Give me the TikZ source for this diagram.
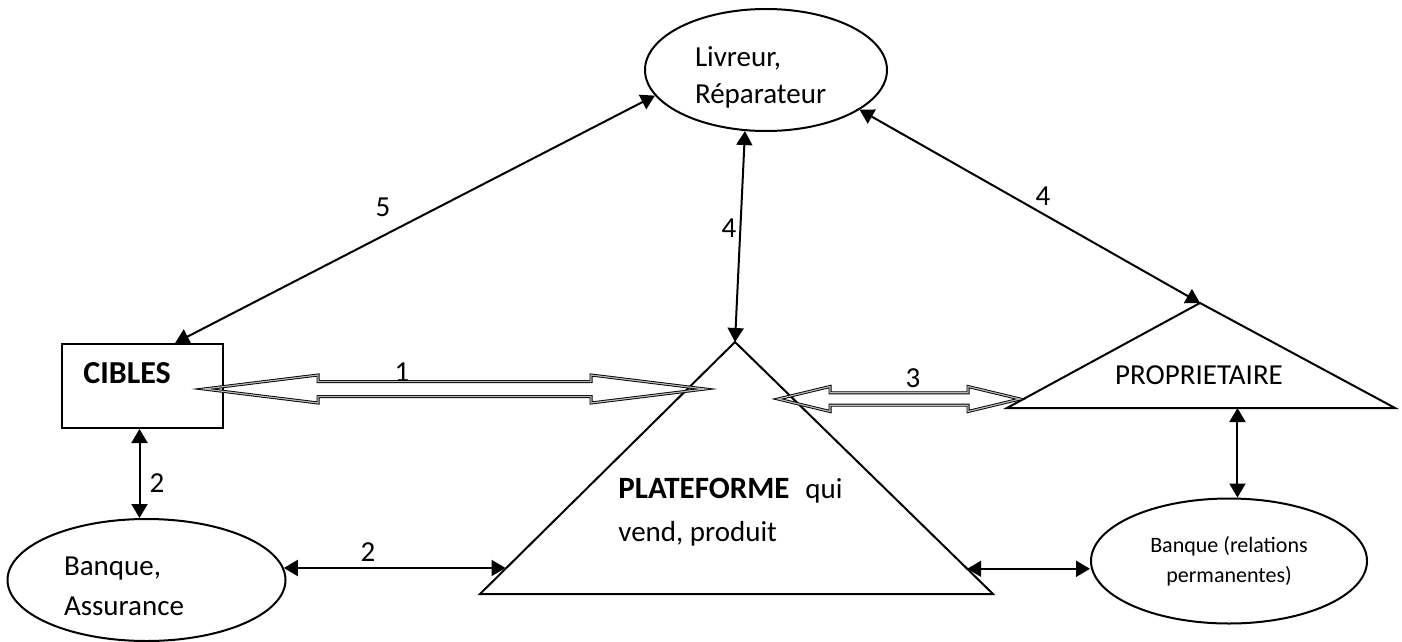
\documentclass[tikz,border=0pt]{standalone}
\usepackage{fontspec}
\setmainfont{Carlito}
\usetikzlibrary{arrows.meta,positioning,calc,shapes.geometric}
\frenchspacing
\newcommand{\fsmain}{\fontsize{14.5pt}{18.5pt}\selectfont}
\newcommand{\fssmall}{\fontsize{11pt}{15pt}\selectfont}
% hollow two-headed arrow: left tip, right tip, head length, head half-width, shaft half-width
\newcommand{\hollowarrow}[5]{%
  \draw[hollow] (#1) -- ($(#1)+(#3,-#4)$) -- ($(#1)+(#3,-#5)$) -- ($(#2)+(-#3,-#5)$)
    -- ($(#2)+(-#3,-#4)$) -- (#2) -- ($(#2)+(-#3,#4)$) -- ($(#2)+(-#3,#5)$)
    -- ($(#1)+(#3,#5)$) -- ($(#1)+(#3,#4)$) -- cycle;}
\tikzset{
  oval/.style={draw,ellipse,line width=1pt,inner sep=0pt,font=\fsmain},
  boxnode/.style={draw,rectangle,line width=1pt,inner sep=0pt},
  tri/.style={draw,line width=1pt,line join=miter},
  link/.style={{Triangle[length=7pt,width=8pt]}-{Triangle[length=7pt,width=8pt]},line width=1pt},
  hollow/.style={draw=black,double=gray!55,double distance=0.6pt,line width=0.45pt,miter limit=25},
  num/.style={font=\fsmain,inner sep=0pt},
}

\begin{document}
\begin{tikzpicture}[x=0.5pt,y=-0.5pt]
\useasboundingbox (0,0) rectangle (1402,642);

% ---------------------------------------------------------------- nodes
\node[oval,minimum width=121pt,minimum height=61pt,text width=71pt,align=left,
  text height=17pt] (liv) at (766,70) {Livreur,\\Réparateur};
\node[boxnode,minimum width=80.5pt,minimum height=42pt] (cib) at (142.5,386) {};
\node[font=\fontsize{16pt}{19pt}\selectfont\bfseries,anchor=base west,inner sep=0pt]
  (cibtxt) at (83,383) {CIBLES};
\node[oval,minimum width=139pt,minimum height=61pt,text width=82.5pt,align=left,
  text height=16pt,font=\fontsize{14.5pt}{20pt}\selectfont] (bas) at (146.5,580) {Banque,\\Assurance};
\node[oval,minimum width=138pt,minimum height=62.5pt,align=center,font=\fssmall]
  (bar) at (1229,561) {Banque (relations\\permanentes)};

% ---------------------------------------------------------------- triangles
\coordinate (platT) at (735,342);
\coordinate (platL) at (480,594);
\coordinate (platR) at (993,594);
\draw[tri] (platT) -- (platL) -- (platR) -- cycle;
\node[anchor=base west,inner sep=0pt,font=\fontsize{14.5pt}{21.5pt}\selectfont]
  (plattxt) at (618,498) {\begin{tabular}[t]{@{}l@{}}
  {\fontsize{15.5pt}{21.5pt}\selectfont\bfseries PLATEFORME}\hspace{0.55em}qui\\
  vend, produit\end{tabular}};

\coordinate (propT) at (1200,303);
\coordinate (propL) at (1007,408);
\coordinate (propR) at (1395,408);
\draw[tri] (propT) -- (propL) -- (propR) -- cycle;
\node[font=\fsmain,anchor=base,inner sep=0pt] (proptxt) at (1199,384) {PROPRIETAIRE};

% ---------------------------------------------------------------- arrows
\draw[link] ($(cib.north west)!0.70!(cib.north east)$) -- (liv.193);
\draw[link] (liv.251) -- (platT);
\draw[link] (liv.337) -- (propT);
\coordinate (cb) at ($(cib.south)+(-3,0)$);
\draw[link] (cb) -- (cb |- bas.north);
\coordinate (pl2) at ($(platL)!0.1!(platT)$);
\draw[link] (bas.5) -- (bas.5 -| pl2);
\coordinate (pr2) at ($(platR)!0.1!(platT)$);
\draw[link] (pr2) -- (pr2 -| bar.west);
\coordinate (pb) at ($(propL)!0.594!(propR)$);
\draw[link] (pb) -- (pb |- bar.north);

\coordinate (L1) at ($(cib.east)+(-20,3)$);
\coordinate (R1) at ($(L1 -| platT)+(-30,0)$);
\hollowarrow{L1}{R1}{114}{14}{7.5}
\coordinate (L3) at ($(propL -| platT)+(43,-9)$);
\coordinate (R3) at ($(propL)+(13,-9)$);
\hollowarrow{L3}{R3}{52}{12.5}{6.2}

% ---------------------------------------------------------------- labels
\node[num] (n5) at (383,207) {5};
\node[num] (n4a) at (729,228) {4};
\node[num] (n4b) at (1043,196) {4};
\node[num] (n1) at (402,372) {1};
\node[num] (n3) at (913,378) {3};
\node[num] (n2a) at (157,483) {2};
\node[num] (n2b) at (368,552) {2};

\end{tikzpicture}
\end{document}
